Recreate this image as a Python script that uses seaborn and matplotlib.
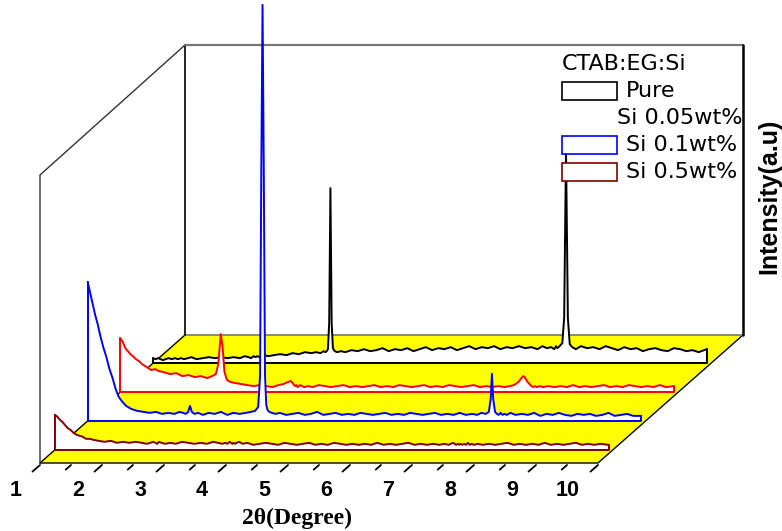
import numpy as np
import seaborn as sns
import matplotlib.pyplot as plt
from matplotlib.patches import Polygon, Rectangle

# 2theta sampling shared by all four patterns (degree)
two_theta = [
    1.00, 1.04, 1.08, 1.12, 1.16, 1.20, 1.25, 1.30, 1.35, 1.40,
    1.45, 1.50, 1.56, 1.62, 1.70, 1.80, 1.90, 2.00, 2.10, 2.20,
    2.30, 2.40, 2.48, 2.54, 2.58, 2.62, 2.65, 2.68, 2.72, 2.78,
    2.86, 2.95, 3.05, 3.15, 3.25, 3.35, 3.45, 3.55, 3.63, 3.70,
    3.75, 3.78, 3.80, 3.82, 3.84, 3.86, 3.88, 3.90, 3.93, 3.97,
    4.03, 4.10, 4.20, 4.30, 4.40, 4.50, 4.60, 4.70, 4.80, 4.90,
    5.00, 5.10, 5.20, 5.30, 5.40, 5.50, 5.60, 5.70, 5.80, 5.90,
    6.00, 6.10, 6.20, 6.30, 6.40, 6.50, 6.60, 6.70, 6.80, 6.90,
    7.00, 7.10, 7.20, 7.28, 7.35, 7.42, 7.47, 7.50, 7.52, 7.54,
    7.57, 7.60, 7.63, 7.66, 7.69, 7.72, 7.76, 7.82, 7.90, 8.00,
    8.10, 8.20, 8.30, 8.40, 8.50, 8.60, 8.70, 8.80, 8.90, 9.00,
    9.10, 9.20, 9.30, 9.40, 9.50, 9.60, 9.70, 9.80, 9.93,
]

# intensities (a.u.)
pure = [
    5, 4, 5, 4, 3, 4, 5, 4, 5, 4,
    5, 4, 5, 6, 4, 5, 6, 5, 6, 5,
    6, 5, 7, 6, 5, 7, 6, 7, 6, 8,
    7, 8, 9, 8, 10, 9, 11, 10, 11, 10,
    12, 11, 12, 14, 40, 175, 40, 15, 12, 11,
    12, 11, 13, 12, 14, 12, 13, 15, 12, 14,
    13, 15, 12, 14, 16, 13, 15, 14, 16, 13,
    15, 17, 14, 16, 15, 17, 14, 16, 15, 17,
    15, 16, 14, 17, 15, 16, 14, 17, 15, 16,
    18, 20, 45, 213, 45, 19, 16, 14, 17, 15,
    16, 14, 17, 15, 13, 16, 14, 15, 12, 14,
    15, 13, 12, 15, 14, 12, 13, 11, 14,
]

si_005 = [
    54, 50, 44, 41, 38, 36, 33, 31, 28, 26,
    24, 22, 23, 21, 20, 18, 19, 16, 17, 15,
    16, 14, 16, 18, 28, 58, 44, 20, 12, 10,
    9, 8, 7, 6, 7, 6, 5, 7, 8, 10,
    11, 9, 7, 6, 7, 5, 6, 7, 6, 5,
    6, 5, 7, 6, 5, 6, 7, 5, 6, 5,
    6, 7, 5, 6, 5, 7, 6, 5, 6, 7,
    5, 6, 5, 7, 6, 5, 6, 7, 5, 6,
    5, 6, 5, 6, 7, 10, 14, 16, 15, 13,
    10, 8, 6, 5, 6, 5, 6, 5, 6, 5,
    6, 5, 7, 5, 6, 5, 6, 7, 5, 6,
    5, 7, 6, 5, 6, 5, 7, 5, 6,
]

si_01 = [
    139, 128, 117, 106, 97, 86, 74, 64, 52, 43,
    32, 24, 19, 15, 12, 10, 9, 8, 9, 7,
    8, 7, 9, 8, 7, 9, 15, 9, 7, 8,
    6, 8, 7, 9, 6, 8, 7, 8, 9, 10,
    14, 45, 250, 416, 250, 45, 16, 11, 9, 8,
    7, 8, 6, 7, 8, 6, 7, 9, 6, 7,
    8, 6, 7, 6, 8, 7, 6, 7, 8, 6,
    7, 6, 8, 7, 6, 7, 8, 6, 7, 6,
    8, 6, 7, 6, 8, 7, 9, 22, 47, 22,
    9, 7, 6, 8, 6, 7, 6, 8, 6, 7,
    6, 8, 5, 7, 6, 8, 6, 5, 7, 6,
    7, 5, 6, 8, 5, 6, 7, 5, 5,
]

si_05 = [
    35, 33, 30, 28, 25, 22, 20, 17, 15, 14,
    13, 11, 11, 10, 9, 8, 9, 7, 8, 7,
    8, 7, 6, 7, 8, 7, 6, 8, 7, 6,
    7, 6, 8, 7, 6, 7, 6, 8, 7, 6,
    7, 6, 7, 8, 7, 6, 7, 6, 7, 8,
    6, 7, 5, 6, 7, 6, 5, 7, 6, 5,
    6, 7, 5, 6, 5, 7, 6, 5, 6, 5,
    6, 5, 7, 5, 6, 5, 6, 7, 5, 6,
    5, 6, 5, 6, 5, 7, 5, 6, 5, 6,
    5, 6, 5, 7, 5, 6, 5, 6, 5, 6,
    5, 6, 7, 5, 6, 5, 6, 5, 7, 5,
    6, 5, 6, 7, 5, 6, 5, 6, 5,
]

series_labels = ['Pure', 'Si 0.05wt%', 'Si 0.1wt%', 'Si 0.5wt%']
series_colors = ['#000000', '#ff0000', '#0000ff', '#800000']
tick_values = [1, 2, 3, 4, 5, 6, 7, 8, 9, 10]

# oblique projection of the 3D box onto the picture (pixels)
X0, Y0 = 40, 463
PX_DEG = 62
DEPTH_DX, DEPTH_DY = 145, -128
WALL_H = 290
depths = [0.78, 0.554, 0.329, 0.103]   # back -> front


def proj(t, depth, h=0):
    t = np.asarray(t, dtype=float)
    h = np.asarray(h, dtype=float) + 0 * t
    return X0 + (t - 1) * PX_DEG + DEPTH_DX * depth, Y0 + DEPTH_DY * depth - h


sns.set_theme(style='white')
plt.rcParams['font.family'] = ['DejaVu Sans']
plt.rcParams['text.color'] = 'black'

fig = plt.figure(figsize=(7.82, 5.31), dpi=100)
ax = fig.add_axes([0, 0, 1, 1])
ax.set_xlim(0, 782)
ax.set_ylim(531, 0)
ax.axis('off')

# box corners
f0 = proj(1, 0)
f1 = proj(10, 0)
b0 = proj(1, 1)
b1 = proj(10, 1)

# floor
ax.add_patch(Polygon([f0, f1, b1, b0], closed=True, fc='#ffff00', ec='none', zorder=1))
ax.plot([f0[0], f1[0], b1[0]], [f0[1], f1[1], b1[1]], color='black', lw=1.0, zorder=2)
ax.plot([f0[0], b0[0]], [f0[1], b0[1]], color='black', lw=1.0, zorder=2)
ax.plot([b0[0], b1[0]], [b0[1], b1[1]], color='#777777', lw=1.2, zorder=2)

# walls
ax.plot([f0[0], f0[0], b0[0]], [f0[1], f0[1] - WALL_H + 2, b0[1] - WALL_H],
        color='#333333', lw=1.0, zorder=2)
ax.plot([b0[0], b0[0]], [b0[1], b0[1] - WALL_H], color='black', lw=1.2, zorder=2)
ax.plot([b0[0], b1[0]], [b0[1] - WALL_H, b1[1] - WALL_H], color='#777777', lw=1.6, zorder=2)
ax.plot([b1[0], b1[0]], [b1[1], b1[1] - WALL_H], color='black', lw=1.8, zorder=2)

# ribbons, back to front
all_series = [pure, si_005, si_01, si_05]
for i, (vals, color, d) in enumerate(zip(all_series, series_colors, depths)):
    z = 5 + 3 * i
    xs, ys = proj(two_theta, d, vals)
    bx, by = proj([two_theta[0], two_theta[-1]], d)
    pts = list(zip(xs, ys)) + [(bx[1], by[1]), (bx[0], by[0])]
    ax.add_patch(Polygon(pts, closed=True, fc='white', ec='none', zorder=z))
    sns.lineplot(x=xs, y=ys, color=color, lw=1.4, estimator=None, sort=False,
                 ax=ax, zorder=z + 1)
    ax.plot([xs[0], bx[0], bx[1], xs[-1]], [ys[0], by[0], by[1], ys[-1]],
            color=color, lw=1.4, zorder=z + 1)

# ticks on the front edge
for v in tick_values:
    for t, ln in [(v, 10), (v + 0.5, 7)]:
        if t > 10:
            continue
        tx, ty = proj(t, 0)
        ax.plot([tx, tx - 0.75 * ln], [ty + 2, ty + 2 + 0.66 * ln], color='black', lw=1.3, zorder=2)
    tx, ty = proj(v, 0)
    ax.text(tx - 18, 491, str(v), ha='right', va='center', fontsize=15.5,
            fontweight='bold', family='Liberation Sans', color='black', zorder=3)

ax.text(297, 518, '2θ(Degree)', ha='center', va='center', fontsize=17,
        fontweight='bold', family='Liberation Serif', color='black')
ax.text(769, 196, 'Intensity(a.u)', rotation=90, ha='center', va='center',
        fontsize=18, fontweight='bold', family='Liberation Sans', color='black')

# legend
ax.text(562, 64, 'CTAB:EG:Si', ha='left', va='center', fontsize=16, color='black', zorder=50)
leg_rows = [(91, 0), (118, 1), (145, 2), (172, 3)]
for y, k in leg_rows:
    if k != 1:
        ax.add_patch(Rectangle((562, y - 9), 55, 18, fc='white', ec=series_colors[k],
                               lw=1.2, zorder=50))
        ax.text(626, y, series_labels[k], ha='left', va='center', fontsize=16,
                color='black', zorder=51)
    else:
        ax.text(617, y, series_labels[k], ha='left', va='center', fontsize=16,
                color='black', zorder=51)

fig.savefig('out.png', dpi=100)
